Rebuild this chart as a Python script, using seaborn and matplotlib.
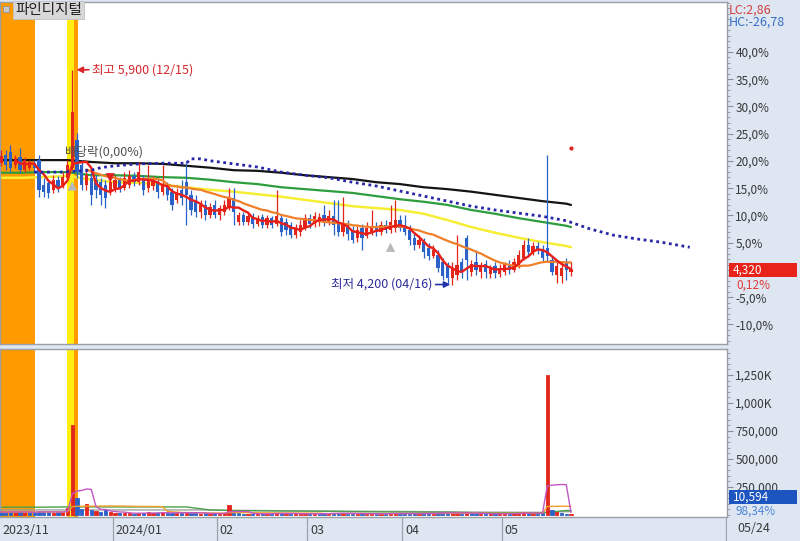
import matplotlib
matplotlib.use("Agg")
import matplotlib.pyplot as plt
from matplotlib.patches import Rectangle
import seaborn as sns
import numpy as np
import pandas as pd

sns.set_style("white")
plt.rcParams["font.family"] = ["Noto Sans CJK KR", "DejaVu Sans"]
plt.rcParams["axes.unicode_minus"] = False

# ---------------- data ----------------
holidays = ["2023-12-25", "2023-12-29", "2024-01-01", "2024-02-09", "2024-02-12",
            "2024-03-01", "2024-04-10", "2024-05-01", "2024-05-06", "2024-05-15"]
dates = pd.bdate_range("2023-11-23", "2024-05-24", freq="C", holidays=holidays)

opens = [5145, 5160, 5225, 5250, 5145, 5210, 5105, 5125, 5160, 5185,
         4990, 5005, 4950, 5030, 4990, 5045, 5125, 5345, 5145, 4990,
         5045, 5030, 5010, 4990, 4935, 4965, 5030, 4965, 4990, 5060,
         5010, 5045, 4965, 4980, 5010, 4935, 4980, 4935, 4870, 4950,
         5010, 4910, 4870, 4775, 4830, 4750, 4830, 4750, 4775, 4805,
         4885, 4695, 4750, 4695, 4740, 4680, 4735, 4670, 4725, 4680,
         4725, 4695, 4670, 4590, 4615, 4655, 4725, 4680, 4695, 4750,
         4695, 4740, 4695, 4615, 4670, 4630, 4570, 4645, 4585, 4615,
         4665, 4615, 4670, 4630, 4645, 4710, 4670, 4630, 4570, 4515,
         4535, 4490, 4425, 4435, 4380, 4355, 4250, 4275, 4380, 4570,
         4300, 4380, 4300, 4365, 4285, 4345, 4285, 4300, 4365, 4315,
         4355, 4410, 4515, 4460, 4505, 4475, 4490, 4395, 4275, 4265,
         4380, 4300]
highs = [5265, 5265, 5265, 5305, 5225, 5280, 5210, 5185, 5185, 5225,
         5045, 5030, 5065, 5060, 5090, 5185, 5900, 5400, 5185, 5105,
         5090, 5065, 5045, 5030, 5045, 5065, 5050, 5090, 5105, 5090,
         5170, 5065, 5145, 5060, 5045, 5145, 5010, 4965, 4965, 5030,
         5170, 4950, 4910, 4870, 4870, 4845, 4870, 4830, 4870, 4965,
         4965, 4775, 4775, 4765, 4765, 4750, 4760, 4750, 4740, 4950,
         4750, 4725, 4695, 4680, 4710, 4760, 4760, 4775, 4765, 4830,
         4790, 4870, 4870, 4895, 4710, 4665, 4665, 4680, 4695, 4790,
         4695, 4705, 4710, 4830, 4870, 4750, 4750, 4670, 4615, 4590,
         4570, 4530, 4515, 4475, 4410, 4380, 4380, 4590, 4410, 4590,
         4395, 4475, 4380, 4395, 4355, 4380, 4365, 4380, 4395, 4410,
         4475, 4555, 4570, 4535, 4535, 4515, 5225, 4425, 4395, 4380,
         4410, 4380]
lows = [5125, 5140, 5105, 5090, 5125, 5085, 5090, 5105, 5090, 4895,
        4895, 4885, 4925, 4935, 4965, 5030, 5105, 5045, 4950, 4950,
        4830, 4885, 4830, 4805, 4910, 4935, 4935, 4950, 4965, 4980,
        4990, 4910, 4935, 4950, 4885, 4910, 4870, 4790, 4845, 4830,
        4670, 4750, 4735, 4725, 4710, 4725, 4725, 4710, 4750, 4790,
        4670, 4670, 4670, 4670, 4645, 4665, 4645, 4645, 4645, 4665,
        4585, 4590, 4570, 4570, 4585, 4630, 4645, 4655, 4665, 4665,
        4670, 4590, 4585, 4585, 4555, 4530, 4535, 4475, 4570, 4590,
        4585, 4590, 4610, 4610, 4615, 4625, 4590, 4515, 4475, 4490,
        4410, 4395, 4410, 4300, 4235, 4210, 4200, 4235, 4250, 4235,
        4265, 4275, 4250, 4250, 4250, 4250, 4260, 4275, 4285, 4300,
        4330, 4395, 4425, 4435, 4440, 4380, 4380, 4275, 4215, 4215,
        4235, 4265]
closes = [5225, 5220, 5145, 5125, 5200, 5105, 5185, 5170, 5125, 4950,
          4935, 4925, 5030, 4965, 5050, 5145, 5565, 5090, 4990, 5065,
          4910, 4950, 4910, 4885, 5010, 5030, 4965, 5045, 5060, 5010,
          5090, 4950, 5030, 5030, 4935, 4990, 4910, 4830, 4935, 4885,
          4910, 4790, 4775, 4830, 4750, 4815, 4750, 4805, 4830, 4885,
          4775, 4750, 4695, 4740, 4680, 4725, 4670, 4725, 4670, 4740,
          4615, 4630, 4590, 4645, 4670, 4725, 4680, 4740, 4735, 4695,
          4740, 4670, 4615, 4670, 4600, 4555, 4630, 4570, 4645, 4665,
          4615, 4670, 4630, 4695, 4710, 4645, 4615, 4555, 4515, 4555,
          4460, 4425, 4475, 4330, 4265, 4250, 4330, 4355, 4300, 4395,
          4365, 4315, 4355, 4300, 4330, 4290, 4330, 4365, 4315, 4380,
          4435, 4515, 4460, 4505, 4475, 4410, 4425, 4300, 4345, 4330,
          4315, 4320]
volumes = [25000, 30000, 20000, 35000, 25000, 30000, 20000, 25000, 20000, 40000,
           30000, 25000, 20000, 25000, 30000, 60000, 805000, 150000, 50000, 95000,
           45000, 35000, 25000, 45000, 30000, 20000, 15000, 18000, 15000, 12000,
           20000, 15000, 25000, 15000, 20000, 25000, 18000, 15000, 20000, 18000,
           30000, 20000, 15000, 12000, 15000, 12000, 15000, 12000, 15000, 85000,
           30000, 15000, 12000, 10000, 12000, 10000, 12000, 10000, 12000, 20000,
           15000, 12000, 10000, 12000, 10000, 12000, 10000, 12000, 10000, 15000,
           12000, 20000, 15000, 18000, 12000, 10000, 12000, 15000, 10000, 12000,
           10000, 12000, 10000, 15000, 20000, 12000, 10000, 12000, 15000, 12000,
           18000, 15000, 12000, 20000, 25000, 20000, 15000, 18000, 12000, 25000,
           15000, 12000, 10000, 12000, 10000, 12000, 10000, 12000, 10000, 15000,
           18000, 25000, 15000, 12000, 10000, 15000, 1250000, 45000, 30000, 20000,
           10773, 10594]

# long moving averages, sampled every 5 sessions (+ last session)
ma_idx = list(range(0, 121, 5)) + [121]
ma_black = [5185, 5185, 5185, 5185, 5170, 5160, 5160, 5155, 5140, 5125, 5105, 5100, 5085,
            5065, 5050, 5035, 5010, 4995, 4970, 4955, 4935, 4910, 4885, 4860, 4840, 4830]
ma_green = [5085, 5085, 5090, 5090, 5065, 5065, 5060, 5050, 5045, 5030, 5010, 4995, 4970,
            4955, 4940, 4925, 4900, 4875, 4855, 4830, 4790, 4760, 4725, 4695, 4665, 4655]
ma_yellow = [5045, 5045, 5050, 5060, 5030, 5010, 5005, 4990, 4970, 4950, 4935, 4915, 4895,
             4870, 4845, 4820, 4805, 4790, 4760, 4710, 4655, 4610, 4570, 4535, 4505, 4495]
vol_green = [70000, 70000, 70000, 72000, 72000, 72000, 72000, 72000, 72000, 45000, 40000,
             38000, 36000, 35000, 33000, 30000, 28000, 27000, 26000, 25000, 22000, 20000,
             20000, 20000, 40000, 40000]
vol_gray = [45000, 45000, 45000, 45000, 45000, 45000, 45000, 45000, 45000, 45000, 40000,
            40000, 38000, 36000, 35000, 34000, 33000, 32000, 30000, 28000, 25000, 25000,
            24000, 24000, 30000, 30000]

# forward-shifted span (blue dots), extends past the last session
span_idx = [8, 14, 20, 22, 25, 30, 35, 40, 41, 43, 45, 50, 55, 60, 65, 70, 75, 80, 85, 90,
            95, 100, 105, 110, 115, 120, 125, 130, 135, 140, 146]
span_val = [5090, 5090, 5105, 5125, 5140, 5155, 5160, 5160, 5195, 5195, 5180, 5155, 5130,
            5090, 5065, 5045, 5010, 4980, 4940, 4900, 4860, 4820, 4790, 4765, 4740, 4705,
            4640, 4590, 4560, 4535, 4495]

up_sig_idx = [16, 83]
up_sig_val = [4980, 4495]
down_sig_idx = [24]
down_sig_val = [5045]

base_price = 4315          # 0% of the right-hand axis (previous close)
pct_ticks = [-10, -5, 5, 10, 15, 20, 25, 30, 35, 40]
vol_ticks = [250000, 500000, 750000, 1000000, 1250000]
vol_labels = ["250,000", "500,000", "750,000", "1,000K", "1,250K"]
month_labels = ["2023/11", "2024/01", "02", "03", "04", "05"]

RED = "#e2261c"
BLUE = "#2a62c8"

# ---------------- figure ----------------
W, H = 800, 541
fig = plt.figure(figsize=(8, 5.41), dpi=100, facecolor="#dde6f1")
fx = lambda p: p / W
fy = lambda p: 1 - p / H

ax = fig.add_axes([0, fy(344), fx(727), (344 - 2) / H])
axv = fig.add_axes([0, fy(517), fx(727), (517 - 349) / H], sharex=ax)
axd = fig.add_axes([0, 0, fx(727), fy(518)], sharex=ax)

o = np.array(opens); h = np.array(highs); l = np.array(lows); c = np.array(closes)
v = np.array(volumes)
x = np.arange(len(dates))
cols = np.where(c >= o, RED, BLUE)
prev = np.r_[o[0], c[:-1]]
vcols = np.where(c >= prev, RED, BLUE)

# highlighted sessions
for a in (ax, axv):
    a.axvspan(0.5, 8.15, color="#ff9a00", lw=0, zorder=0)
    a.axvspan(14.8, 16.4, color="#ffee10", lw=0, zorder=0)
    a.axvspan(16.4, 17.2, color="#ff9a00", lw=0, zorder=0)

# candles
ax.vlines(x, l, h, colors=cols, lw=0.9, zorder=3)
ax.bar(x, np.maximum(np.abs(c - o), 6), bottom=np.minimum(o, c), width=0.66,
       color=cols, lw=0, zorder=4)

# moving averages
close_s = pd.Series(c, dtype=float)
ma5 = pd.DataFrame({"x": x, "y": close_s.rolling(5).mean()}).dropna()
ma20 = pd.DataFrame({"x": x, "y": close_s.rolling(20).mean()}).dropna()
sns.lineplot(x=ma_idx, y=ma_black, ax=ax, color="#141414", lw=1.6, zorder=2)
sns.lineplot(x=ma_idx, y=ma_green, ax=ax, color="#2e9d3e", lw=1.6, zorder=2)
sns.lineplot(x=ma_idx, y=ma_yellow, ax=ax, color="#f5ee35", lw=1.8, zorder=2)
sns.lineplot(data=ma20, x="x", y="y", ax=ax, color="#f07f2a", lw=1.6, zorder=5)
sns.lineplot(data=ma5, x="x", y="y", ax=ax, color="#e81e18", lw=1.7, zorder=5)
sns.lineplot(x=span_idx, y=span_val, ax=ax, color="#2626a6", lw=2.0,
             linestyle=(0, (1, 1.3)), zorder=5)

# signals
sns.scatterplot(x=up_sig_idx, y=up_sig_val, ax=ax, marker="^", s=45,
                color="#b9b9b9", edgecolor="none", zorder=6)
sns.scatterplot(x=down_sig_idx, y=down_sig_val, ax=ax, marker="v", s=45,
                color="#e02020", edgecolor="none", zorder=6)
ax.scatter([121], [5280], s=4, color="#e02020", zorder=6)

# high / low notes
i_hi = int(np.argmax(h)); i_lo = int(np.argmin(l))
ax.annotate(f"최고 {h[i_hi]:,} ({dates[i_hi]:%m/%d})", xy=(i_hi + 0.9, h[i_hi]),
            xytext=(i_hi + 4.2, h[i_hi]), color="#d8262a", fontsize=9,
            va="center", ha="left",
            arrowprops=dict(arrowstyle="-|>", color="#d8262a", lw=1.2,
                            shrinkA=0, shrinkB=0, mutation_scale=9))
ax.annotate(f"최저 {l[i_lo]:,} ({dates[i_lo]:%m/%d})", xy=(i_lo - 0.4, l[i_lo]),
            xytext=(i_lo - 4.2, l[i_lo]), color="#2c2c9c", fontsize=9,
            va="center", ha="right",
            arrowprops=dict(arrowstyle="-|>", color="#2233aa", lw=1.2,
                            shrinkA=0, shrinkB=0, mutation_scale=9))
ax.text(14.5, 5249, "배당락(0,00%)", color="#505050", fontsize=9, va="center",
        ha="left", zorder=7)

# price axis (right, percent of base price)
ax.set_xlim(0.79, 153.84)
ax.set_ylim(base_price * (1 - 0.1358), base_price * (1 + 0.4917))
ax.yaxis.tick_right()
ax.set_yticks([base_price * (1 + p / 100) for p in pct_ticks])
ax.set_yticklabels([f"{p:.1f}%".replace(".", ",") for p in pct_ticks])
ax.set_yticks([base_price * (1 + p / 100) for p in range(-13, 50)], minor=True)
ax.tick_params(axis="y", which="both", right=True, left=False, direction="out",
               colors="#8a8f99", labelcolor="#383838", labelsize=8.5, pad=2)
ax.tick_params(axis="y", which="major", length=4)
ax.tick_params(axis="y", which="minor", length=2)
ax.tick_params(axis="x", bottom=False, labelbottom=False)
ax.set_xlabel(""); ax.set_ylabel("")

# volume
axv.bar(x, v, width=0.66, color=vcols, edgecolor=vcols, lw=0.6, zorder=3)
vol_s = pd.Series(v, dtype=float)
sns.lineplot(x=ma_idx, y=vol_gray, ax=axv, color="#a0a0a0", lw=1.0, zorder=2)
sns.lineplot(x=ma_idx, y=vol_green, ax=axv, color="#4aa04a", lw=1.0, zorder=2)
sns.lineplot(x=x, y=vol_s.rolling(20, min_periods=1).mean(), ax=axv, color="#f0a030",
             lw=1.0, zorder=4)
sns.lineplot(x=x, y=vol_s.rolling(5, min_periods=1).mean(), ax=axv, color="#c455c4",
             lw=1.0, zorder=4)
axv.set_ylim(-17900, 1482000)
axv.yaxis.tick_right()
axv.set_yticks(vol_ticks)
axv.set_yticklabels(vol_labels)
axv.set_yticks(np.arange(0, 1450001, 50000), minor=True)
axv.tick_params(axis="y", which="both", right=True, left=False, direction="out",
                colors="#8a8f99", labelcolor="#383838", labelsize=8.5, pad=2)
axv.tick_params(axis="y", which="major", length=4)
axv.tick_params(axis="y", which="minor", length=2)
axv.tick_params(axis="x", bottom=False, labelbottom=False)
axv.set_xlabel(""); axv.set_ylabel("")

for a in (ax, axv):
    for s in a.spines.values():
        s.set_color("#9a9ea6")
        s.set_linewidth(1.0)

# date bar
axd.set_facecolor("none")
axd.set_ylim(0, 1)
for s in axd.spines.values():
    s.set_visible(False)
axd.tick_params(left=False, bottom=False, labelleft=False, labelbottom=False)
month_pos = [0] + [i for i in range(1, len(dates)) if dates[i].month != dates[i - 1].month]
month_pos = [p for p in month_pos if dates[p].month != 12]
for k, p in enumerate(month_pos):
    if k == 0:
        axd.text(1.35, 0.45, month_labels[k], fontsize=9, color="#3a3a3a", va="center")
    else:
        axd.axvline(p - 0.5, color="#9aa3ae", lw=0.9)
        axd.text(p - 0.5 + 0.55, 0.45, month_labels[k], fontsize=9, color="#3a3a3a",
                 va="center")
axd.axvline(153.7, color="#9aa3ae", lw=0.9)

# right-hand boxes and texts
fig.text(fx(729), fy(10), "LC:2,86", color="#d24040", fontsize=9, va="center")
fig.text(fx(729), fy(22), "HC:-26,78", color="#3a6fc4", fontsize=9, va="center")
fig.add_artist(Rectangle((fx(729), fy(277)), fx(68), 14 / H, transform=fig.transFigure,
                         fc="#e8231a", ec="none", zorder=5))
fig.text(fx(733), fy(270), f"{c[-1]:,}", color="white", fontsize=8.5, va="center", zorder=6)
pct = (c[-1] / c[-2] - 1) * 100
fig.text(fx(736), fy(285), f"{pct:.2f}%".replace(".", ","), color="#e03a3a",
         fontsize=8.5, va="center")
fig.add_artist(Rectangle((fx(729), fy(504)), fx(68), 14 / H, transform=fig.transFigure,
                         fc="#1d55c0", ec="none", zorder=5))
fig.text(fx(733), fy(497), f"{v[-1]:,}", color="white", fontsize=8.5, va="center", zorder=6)
fig.text(fx(736), fy(511), f"{v[-1] / v[-2] * 100:.2f}%".replace(".", ","),
         color="#4d86d9", fontsize=8.5, va="center")
fig.text(fx(737), fy(529), f"{dates[-1]:%m/%d}", color="#3a3a3a", fontsize=9, va="center")

# title box
fig.add_artist(Rectangle((fx(3), fy(12)), fx(6), 6 / H, transform=fig.transFigure,
                         fc="#c8c8c8", ec="#909090", lw=0.6))
fig.text(fx(15), fy(10), "파인디지털", fontsize=10.5, color="#202020", va="center",
         bbox=dict(boxstyle="square,pad=0.15", fc="#d8d8d8", ec="#c0c0c0", lw=0.6))

fig.savefig("out.png", dpi=100, facecolor=fig.get_facecolor())
